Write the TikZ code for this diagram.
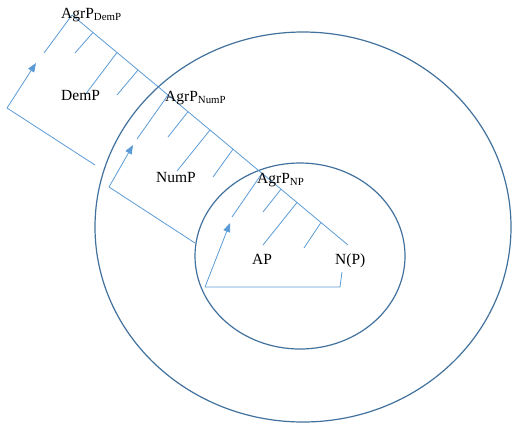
\documentclass[tikz,border=0pt]{standalone}
\usepackage{fontspec}
\setmainfont{Liberation Serif}
\usetikzlibrary{arrows.meta}
\definecolor{branchblue}{RGB}{91,155,213}
\definecolor{ringblue}{RGB}{65,113,156}
\begin{document}
\begin{tikzpicture}[x=1pt,y=-1pt,
  branch/.style={draw=branchblue, line width=0.8pt},
  ring/.style={draw=ringblue, line width=1.2pt},
  move/.style={branch, -{Triangle[length=9pt,width=7pt]}},
  lab/.style={anchor=base west, inner sep=0pt, font=\fontsize{15.5}{18}\selectfont}]
\useasboundingbox (0,0) rectangle (513,424);

% the two domains
\draw[ring] (303,227) ellipse [x radius=208pt, y radius=195pt];
\draw[ring] (300,256) ellipse [x radius=105pt, y radius=93pt];

% spine of the tree
\coordinate (dem)  at (72,15);
\coordinate (d1)   at (93,32.5);
\coordinate (d2)   at (117,52.5);
\coordinate (d3)   at (138,70);
\coordinate (num)  at (168,95);
\coordinate (n1)   at (188,111.7);
\coordinate (n2)   at (210,130);
\coordinate (n3)   at (233,149.2);
\coordinate (np)   at (262,173.3);
\coordinate (p1)   at (281,189.2);
\coordinate (p2)   at (297,202.5);
\coordinate (p3)   at (321,222.5);
\coordinate (head) at (348,245);
\draw[branch] (dem) -- (head);

% left daughters
\coordinate (d1e) at (75,53);
\coordinate (d2e) at (85,95);
\coordinate (d3e) at (117,95);
\coordinate (n1e) at (168,137);
\coordinate (n2e) at (177,171);
\coordinate (n3e) at (213,177);
\coordinate (p1e) at (263,212);
\coordinate (p2e) at (263,245);
\coordinate (p3e) at (304,248);
\foreach \a/\b in {d1/d1e,d2/d2e,d3/d3e,n1/n1e,n2/n2e,n3/n3e,p1/p1e,p2/p2e,p3/p3e}
  \draw[branch] (\a) -- (\b);

% specifier positions
\coordinate (demspec) at (44,53);
\coordinate (numspec) at (137,139);
\coordinate (npspec)  at (232,217);
\draw[branch] (dem) -- (demspec);
\draw[branch] (num) -- (numspec);
\draw[branch] (np)  -- (npspec);

% movement paths
\coordinate (demc)  at (7,108);
\coordinate (demt)  at (36,63);
\coordinate (demb)  at (95,165);
\coordinate (numc)  at (109,187);
\coordinate (numt)  at (133,145);
\coordinate (numb)  at (195,243);
\coordinate (npc)   at (205,287);
\coordinate (npt)   at (230,223);
\coordinate (npb)   at (340,287);
\coordinate (npend) at (342,272);
\draw[branch] (demb) -- (demc);
\draw[move] (demc) -- (demt);
\draw[branch] (numb) -- (numc);
\draw[move] (numc) -- (numt);
\draw[branch] (npend) -- (npb) -- (npc);
\draw[move] (npc) -- (npt);

% labels
\node[lab] (agrdem) at (61,18)  {AgrP\textsubscript{DemP}};
\node[lab] (demp)   at (61,100) {DemP};
\node[lab] (agrnum) at (165,101) {AgrP\textsubscript{NumP}};
\node[lab] (nump)   at (156,182) {NumP};
\node[lab] (agrnp)  at (257,183) {AgrP\textsubscript{NP}};
\node[lab] (ap)     at (252,264) {AP};
\node[lab] (nounp)  at (335,264) {N(P)};
\end{tikzpicture}
\end{document}
